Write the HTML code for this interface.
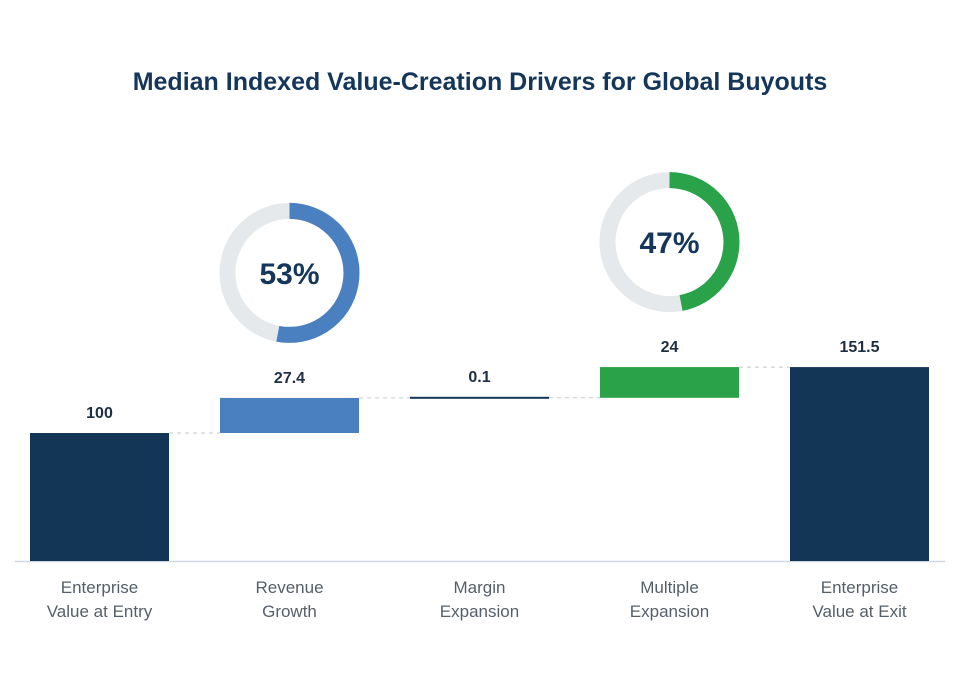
<!DOCTYPE html>
<html><head><meta charset="utf-8"><style>
body{margin:0;background:#fff;width:960px;height:691px;overflow:hidden;font-family:"Liberation Sans",sans-serif}
</style></head><body>
<svg width="960" height="691" id="chart">
<text x="480" y="90" text-anchor="middle" font-size="25" font-weight="bold" fill="#14365a">Median Indexed Value-Creation Drivers for Global Buyouts</text>
<line x1="15" x2="945" y1="561.5" y2="561.5" stroke="#cfd8e3" stroke-width="1.5"/>
</svg>
<script>
const categories=[["Enterprise","Value at Entry"],["Revenue","Growth"],["Margin","Expansion"],["Multiple","Expansion"],["Enterprise","Value at Exit"]];
const values=[100,27.4,0.1,24,151.5];
const labels=["100","27.4","0.1","24","151.5"];
const kinds=["total","delta","delta","delta","total"];
const colors=["#133556","#4a7fc0","#133556","#2aa24a","#133556"];
const donutIdx=[1,3];
const donutPct=[53,47];
const donutColors=["#4a7fc0","#2aa24a"];
const svg=document.getElementById('chart');const NS="http://www.w3.org/2000/svg";
const base=561,scale=1.28,x0=30,step=190,bw=139;
const y=v=>base-v*scale;const xb=i=>x0+i*step;
function mk(t,a){const e=document.createElementNS(NS,t);for(const k in a)e.setAttribute(k,a[k]);svg.appendChild(e);return e;}
let cum=0;const tops=[];
values.forEach((v,i)=>{
 let lo,hi;
 if(kinds[i]==="total"){lo=0;hi=v;cum=v;}else{lo=cum;hi=cum+v;cum=hi;}
 let yt=y(hi),h=Math.max(y(lo)-y(hi),2);
 if(y(lo)-y(hi)<2)yt=y(hi)-1;
 tops.push({yt,hi});
 const r=mk('rect',{x:xb(i),y:yt,width:bw,height:h,fill:colors[i]});
 
 
 const t=mk('text',{x:xb(i)+bw/2,y:yt-15,'text-anchor':'middle','font-size':16,'font-weight':'bold',fill:'#1e2f45'});t.textContent=labels[i];
 
 
 categories[i].forEach((s,j)=>{const c=mk('text',{x:xb(i)+bw/2,y:593+j*24,'text-anchor':'middle','font-size':17,fill:'#555f6a'});c.textContent=s;
 
 });
});
let run=0;
values.forEach((v,i)=>{
 if(i===values.length-1)return;
 run=kinds[i]==="total"?v:run+v;
 const l=mk('line',{x1:xb(i)+bw,x2:xb(i+1),y1:y(run),y2:y(run),stroke:'#c4c9cf','stroke-dasharray':'4,4','stroke-width':1});
 
 
});
donutIdx.forEach((bi,k)=>{
 const cx=xb(bi)+bw/2,cy=tops[bi].yt-125,r=62,sw=16;
 const bg=mk('circle',{cx,cy,r,fill:'none',stroke:'#e6e9ec','stroke-width':sw});
 
 
 const C=2*Math.PI*r;
 const a=mk('circle',{cx,cy,r,fill:'none',stroke:donutColors[k],'stroke-width':sw,'stroke-dasharray':(C*donutPct[k]/100)+' '+C,transform:`rotate(-90 ${cx} ${cy})`});
 
 
 const t=mk('text',{x:cx,y:cy+11,'text-anchor':'middle','font-size':30,'font-weight':'bold',fill:'#14365a'});t.textContent=donutPct[k]+'%';
 
 
});
</script>
</body></html>
